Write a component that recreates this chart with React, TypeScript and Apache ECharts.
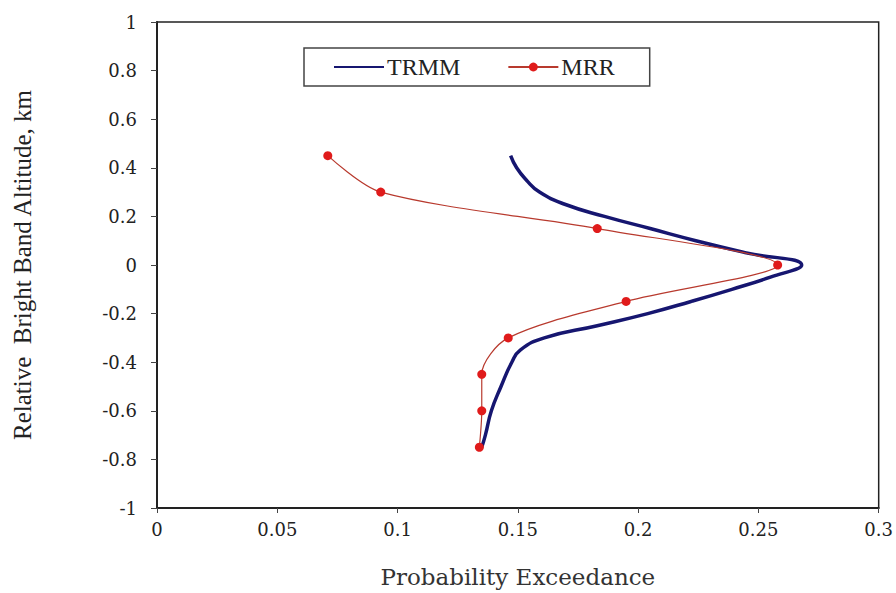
import React, { useEffect, useRef } from "react";
import * as echarts from "echarts";

const xTicks = [0, 0.05, 0.1, 0.15, 0.2, 0.25, 0.3];
const yTicks = [-1, -0.8, -0.6, -0.4, -0.2, 0, 0.2, 0.4, 0.6, 0.8, 1];

// TRMM profile: altitude (km) and probability exceedance
const trmmAlt = [0.45, 0.4, 0.35, 0.3, 0.25, 0.2, 0.15, 0.1, 0.05, 0.0, -0.05, -0.1, -0.15, -0.2, -0.25, -0.3, -0.35, -0.4, -0.5, -0.6, -0.7, -0.75];
const trmmProb = [0.147, 0.1495, 0.1535, 0.159, 0.1695, 0.186, 0.205, 0.224, 0.245, 0.268, 0.255, 0.239, 0.222, 0.204, 0.183, 0.161, 0.151, 0.1475, 0.143, 0.139, 0.1365, 0.135];

// MRR profile
const mrrAlt = [0.45, 0.3, 0.15, 0.0, -0.15, -0.3, -0.45, -0.6, -0.75];
const mrrProb = [0.071, 0.093, 0.183, 0.258, 0.195, 0.146, 0.135, 0.135, 0.134];

export default function App() {
  const ref = useRef<HTMLDivElement>(null);
  useEffect(() => {
    if (!ref.current) return;
    const chart = echarts.init(ref.current, undefined, { renderer: "svg" });
    const tickFont = "'DejaVu Serif', serif";
    chart.setOption({
      animation: false,
      backgroundColor: "#ffffff",
      grid: {
        left: 157,
        top: 22,
        right: 9,
        bottom: 85,
        show: true,
        borderColor: "#222",
        borderWidth: 1.5,
        backgroundColor: "transparent",
      },
      legend: {
        left: 304,
        top: 48,
        padding: [7, 35, 7, 29],
        borderColor: "#444",
        borderWidth: 1.5,
        itemGap: 47,
        itemWidth: 50,
        itemHeight: 11,
        textStyle: { fontFamily: "'Liberation Serif', serif", fontSize: 24, color: "#222", padding: [0, 0, 0, -2] },
        data: [
          { name: "TRMM", itemStyle: { opacity: 0 } },
          { name: "MRR" },
        ],
      },
      xAxis: {
        type: "value",
        min: 0,
        max: 0.3,
        interval: 0.05,
        name: "Probability Exceedance",
        nameLocation: "middle",
        nameGap: 57,
        nameTextStyle: { fontFamily: tickFont, fontSize: 23, color: "#333" },
        axisLine: { show: true, onZero: false, lineStyle: { color: "#222", width: 2 } },
        axisTick: { show: true, length: 5, lineStyle: { color: "#444" } },
        axisLabel: {
          fontFamily: tickFont,
          fontSize: 18,
          color: "#222",
          margin: 12,
          formatter: (v: number) => {
            const t = xTicks.find((x) => Math.abs(x - v) < 1e-9);
            return t === undefined ? "" : String(+t.toFixed(2));
          },
        },
        splitLine: { show: false },
      },
      yAxis: {
        type: "value",
        min: -1,
        max: 1,
        interval: 0.2,
        name: "Relative  Bright Band Altitude, km",
        nameLocation: "middle",
        nameGap: 122,
        nameTextStyle: { fontFamily: "'Liberation Serif', serif", fontSize: 25, color: "#222" },
        axisLine: { show: true, onZero: false, lineStyle: { color: "#222", width: 2 } },
        axisTick: { show: true, length: 6, lineStyle: { color: "#444" } },
        axisLabel: {
          fontFamily: tickFont,
          fontSize: 18,
          color: "#222",
          margin: 20,
          formatter: (v: number) => {
            const t = yTicks.find((y) => Math.abs(y - v) < 1e-9);
            return t === undefined ? "" : String(+t.toFixed(1));
          },
        },
        splitLine: { show: false },
      },
      series: [
        {
          name: "TRMM",
          type: "line",
          data: trmmAlt.map((a, i) => [trmmProb[i], a]),
          smooth: 0.5,
          symbol: "none",
          showSymbol: false,
          lineStyle: { color: "#161670", width: 3.5 },
          itemStyle: { color: "#161670" },
        },
        {
          name: "MRR",
          type: "line",
          data: mrrAlt.map((a, i) => [mrrProb[i], a]),
          smooth: 0.3,
          symbol: "circle",
          symbolSize: 9,
          lineStyle: { color: "#b83a2e", width: 1.2 },
          itemStyle: { color: "#e01b1b" },
        },
      ],
    });
    return () => chart.dispose();
  }, []);
  return <div ref={ref} style={{ position: "fixed", left: 0, top: 0, width: 896, height: 593 }} />;
}
